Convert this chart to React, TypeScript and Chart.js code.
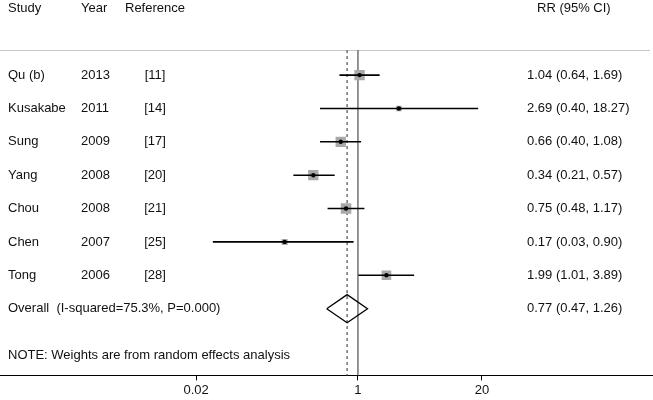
import React, { useEffect, useRef } from "react";
import { Chart, registerables } from "chart.js";

Chart.register(...registerables);

// ---- data ----
const studies = ["Qu (b)", "Kusakabe", "Sung", "Yang", "Chou", "Chen", "Tong"];
const years = ["2013", "2011", "2009", "2008", "2008", "2007", "2006"];
const references = ["[11]", "[14]", "[17]", "[20]", "[21]", "[25]", "[28]"];
const rr = [1.04, 2.69, 0.66, 0.34, 0.75, 0.17, 1.99];
const lower = [0.64, 0.4, 0.4, 0.21, 0.48, 0.03, 1.01];
const upper = [1.69, 18.27, 1.08, 0.57, 1.17, 0.9, 3.89];
const weights = [18.2, 5.2, 18.0, 18.0, 18.7, 6.2, 15.7]; // estimated (%)
const overall = [0.77]; // RR
const overallLower = [0.47];
const overallUpper = [1.26];
const overallLabel = "Overall  (I-squared=75.3%, P=0.000)";
const noteLabel = "NOTE: Weights are from random effects analysis";
const headers = ["Study", "Year", "Reference", "RR (95% CI)"];
const xTickValues = [0.02, 1, 20];
const xTickLabels = ["0.02", "1", "20"];

// ---- layout constants ----
const X_MIN = 0.000175;
const X_MAX = 1250;
const ROW_HEADER = -2;
const ROW_SEP = -0.75;
const ROW_OVERALL = studies.length;
const ROW_NOTE = 8.4;
const Y_MIN = -2.25;
const Y_MAX = 9;
const DIAMOND_HALF = 0.42;
const FONT = '13px "Liberation Sans", Arial, sans-serif';
const TEXT_COLOR = "#111111";

const fmt = (v: number) => v.toFixed(2);
const ciText = (e: number, l: number, u: number) => `${fmt(e)} (${fmt(l)}, ${fmt(u)})`;

const forestText = {
  id: "forestText",
  beforeDatasetsDraw(chart: any) {
    const { ctx, chartArea, scales } = chart;
    const y = scales.y;
    ctx.save();
    ctx.strokeStyle = "#c6c6c6";
    ctx.lineWidth = 1;
    const sy = Math.round(y.getPixelForValue(ROW_SEP)) + 0.5;
    ctx.beginPath();
    ctx.moveTo(chartArea.left, sy);
    ctx.lineTo(chartArea.right - 3, sy);
    ctx.stroke();
    ctx.restore();
  },
  afterDraw(chart: any) {
    const { ctx, scales } = chart;
    const y = scales.y;
    ctx.save();
    ctx.font = FONT;
    ctx.fillStyle = TEXT_COLOR;
    ctx.textBaseline = "middle";
    const hy = y.getPixelForValue(ROW_HEADER);
    ctx.textAlign = "left";
    ctx.fillText(headers[0], 8, hy);
    ctx.fillText(headers[1], 81, hy);
    ctx.fillText(headers[2], 125, hy);
    ctx.fillText(headers[3], 537, hy);
    studies.forEach((s, i) => {
      const py = y.getPixelForValue(i);
      ctx.textAlign = "left";
      ctx.fillText(s, 8, py);
      ctx.fillText(years[i], 81, py);
      ctx.textAlign = "center";
      ctx.fillText(references[i], 155, py);
      ctx.textAlign = "left";
      ctx.fillText(ciText(rr[i], lower[i], upper[i]), 527, py);
    });
    const oy = y.getPixelForValue(ROW_OVERALL);
    ctx.fillText(overallLabel, 8, oy);
    ctx.fillText(ciText(overall[0], overallLower[0], overallUpper[0]), 527, oy);
    ctx.fillText(noteLabel, 8, y.getPixelForValue(ROW_NOTE));
    ctx.restore();
  },
};

export default function App() {
  const ref = useRef<HTMLCanvasElement | null>(null);
  useEffect(() => {
    if (!ref.current) return;
    const ciSets = studies.map((_, i) => ({
      type: "scatter" as const,
      showLine: true,
      data: [
        { x: lower[i], y: i },
        { x: upper[i], y: i },
      ],
      borderColor: "#000000",
      borderWidth: 1.6,
      pointRadius: 0,
      order: 3,
    }));
    const datasets: any[] = [
      {
        showLine: true,
        data: [
          { x: 1, y: ROW_SEP },
          { x: 1, y: Y_MAX },
        ],
        borderColor: "#7a7a7a",
        borderWidth: 1.6,
        pointRadius: 0,
        order: 5,
      },
      {
        showLine: true,
        data: [
          { x: overall[0], y: ROW_SEP },
          { x: overall[0], y: Y_MAX },
        ],
        borderColor: "#7a7a7a",
        borderWidth: 1.6,
        borderDash: [3, 3],
        pointRadius: 0,
        order: 5,
      },
      {
        // weight boxes
        showLine: false,
        data: rr.map((v, i) => ({ x: v, y: i })),
        pointStyle: "rect",
        pointRadius: weights.map((w) => 1.72 * Math.sqrt(w)),
        backgroundColor: "#a9a9a9",
        borderWidth: 0,
        order: 4,
      },
      ...ciSets,
      {
        // point estimates
        showLine: false,
        data: rr.map((v, i) => ({ x: v, y: i })),
        pointStyle: "circle",
        pointRadius: 2.2,
        backgroundColor: "#000000",
        borderWidth: 0,
        order: 1,
      },
      {
        // overall diamond
        showLine: true,
        data: [
          { x: overallLower[0], y: ROW_OVERALL },
          { x: overall[0], y: ROW_OVERALL - DIAMOND_HALF },
          { x: overallUpper[0], y: ROW_OVERALL },
          { x: overall[0], y: ROW_OVERALL + DIAMOND_HALF },
          { x: overallLower[0], y: ROW_OVERALL },
        ],
        borderColor: "#000000",
        borderWidth: 1.3,
        pointRadius: 0,
        fill: false,
        order: 1,
      },
    ];

    const chart = new Chart(ref.current, {
      type: "scatter",
      data: { datasets },
      options: {
        animation: false,
        responsive: true,
        maintainAspectRatio: false,
        layout: { padding: 0, autoPadding: false },
        plugins: { legend: { display: false }, tooltip: { enabled: false } },
        scales: {
          x: {
            type: "logarithmic",
            min: X_MIN,
            max: X_MAX,
            bounds: "data",
            afterBuildTicks: (scale: any) => {
              scale.ticks = xTickValues.map((v) => ({ value: v }));
            },
            ticks: {
              autoSkip: false,
              maxRotation: 0,
              padding: 2,
              color: TEXT_COLOR,
              font: { family: '"Liberation Sans", Arial, sans-serif', size: 13 },
              callback: (_v: any, i: number) => xTickLabels[i],
            },
            grid: {
              display: true,
              drawOnChartArea: false,
              drawTicks: true,
              tickLength: 5,
              color: "#000000",
            },
            border: { display: true, color: "#000000", width: 1 },
          },
          y: {
            type: "linear",
            reverse: true,
            min: Y_MIN,
            max: Y_MAX,
            display: false,
          },
        },
      } as any,
      plugins: [forestText],
    });
    return () => chart.destroy();
  }, []);

  return (
    <div style={{ position: "fixed", left: 0, top: 0, width: 653, height: 400, background: "#fff" }}>
      <canvas ref={ref} />
    </div>
  );
}
